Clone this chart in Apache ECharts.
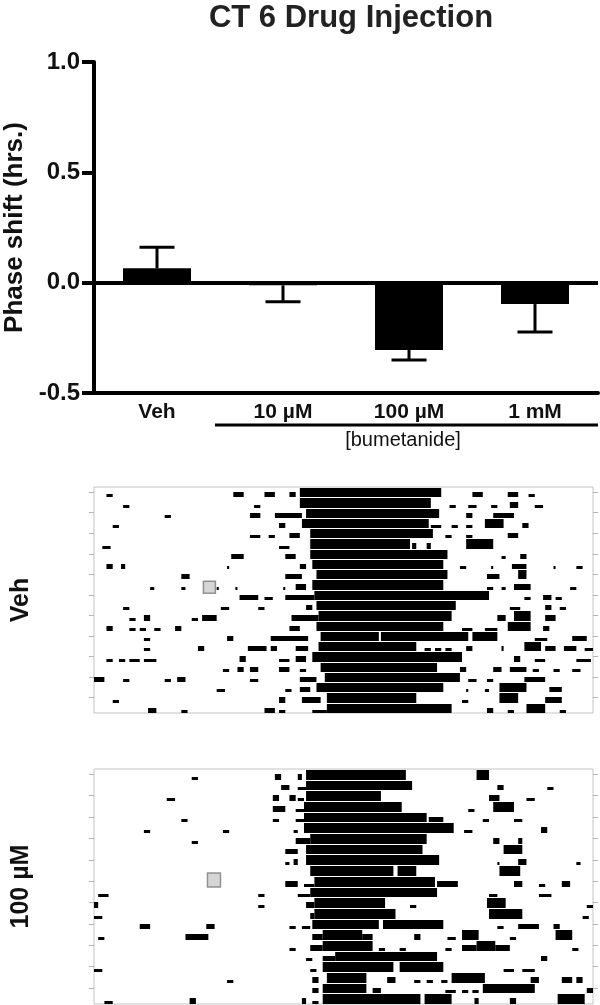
<!DOCTYPE html>
<html>
<head>
<meta charset="utf-8">
<script src="https://cdn.jsdelivr.net/npm/echarts@6/dist/echarts.min.js"></script>
<style>
html,body{margin:0;padding:0;background:#fff;}
#main{width:600px;height:1005px;}
</style>
</head>
<body>
<div id="main"></div>
<script>
// phase shift bar chart
var categories = ['Veh', '10 µM', '100 µM', '1 mM'];
var meanShift = [0.065, -0.012, -0.305, -0.097];
var semShift = [0.095, 0.074, 0.045, 0.126];

// actograms: one list per day row, each segment [startHour, endHour, level 1..3]
var vehActogram = [
  [[0.6,0.9,1],[6.7,7.2,2],[8.2,8.7,2],[9.4,9.7,2],[9.9,16.7,3],[18.2,18.7,2],[19.9,20.4,2],[20.9,21.2,1]],
  [[1.4,1.7,1],[7.7,8.0,1],[9.9,16.2,3],[17.1,17.4,1],[18.0,18.4,1],[19.1,19.4,1],[20.0,20.4,2],[21.2,21.6,1]],
  [[3.4,3.7,1],[7.5,8.0,2],[8.7,10.0,2],[10.2,16.6,3],[17.9,18.2,2],[19.2,20.2,2]],
  [[0.9,1.2,1],[8.9,9.2,2],[10.0,16.1,3],[16.2,16.7,1],[17.2,17.5,1],[17.9,18.2,1],[18.8,19.7,3],[20.6,20.9,2]],
  [[7.5,8.0,1],[8.4,8.7,1],[9.4,9.9,2],[10.4,16.3,3],[16.9,17.2,1],[17.9,18.2,1],[19.9,20.4,2]],
  [[0.4,0.8,1],[8.9,9.4,1],[10.4,15.2,3],[15.3,15.5,2],[16.0,16.2,2],[17.9,19.2,3]],
  [[6.6,7.2,2],[9.2,9.7,2],[10.4,17.0,3],[19.6,19.8,1],[20.5,20.8,2]],
  [[0.6,0.9,2],[1.3,1.5,2],[6.4,6.5,1],[9.9,10.2,2],[10.5,16.8,3],[17.6,17.9,1],[19.1,19.2,1],[20.1,20.8,2],[22.1,22.2,1],[23.2,23.5,1]],
  [[4.2,4.6,2],[9.2,10.0,2],[10.7,17.0,3],[18.9,19.5,2],[20.4,20.8,3]],
  [[2.7,2.9,1],[4.2,4.4,1],[5.9,6.0,1],[6.8,6.9,1],[9.1,9.2,1],[9.7,10.2,2],[10.5,16.8,3],[18.9,19.2,1],[19.6,19.8,1],[20.2,21.0,2],[22.9,23.2,1]],
  [[7.0,7.9,2],[8.2,8.6,1],[9.2,10.6,2],[10.6,19.0,3],[20.7,21.0,1],[21.6,22.0,2],[22.2,22.5,1]],
  [[1.4,1.7,1],[6.1,6.5,1],[7.9,8.2,1],[10.2,10.5,2],[10.7,17.4,3],[20.0,20.5,1],[21.7,22.0,2],[22.4,22.7,1]],
  [[1.7,2.0,1],[2.4,2.7,2],[4.7,5.0,1],[5.2,5.9,2],[9.5,10.8,2],[10.8,17.2,3],[19.4,19.8,2],[20.2,21.0,3],[21.7,22.2,2]],
  [[0.6,0.9,2],[1.7,2.0,1],[2.2,2.5,1],[2.9,3.2,1],[3.9,4.2,2],[9.4,9.9,2],[10.7,16.8,3],[17.7,18.2,1],[18.8,19.4,1],[19.9,21.0,3],[21.6,21.9,2]],
  [[2.4,2.7,1],[6.4,6.7,2],[8.5,10.3,2],[10.9,13.7,3],[13.8,18.0,3],[18.2,19.4,3],[21.2,21.8,1],[23.0,23.7,2]],
  [[2.4,2.7,1],[5.0,5.3,2],[7.4,8.3,2],[8.5,8.8,2],[9.7,10.3,2],[10.8,15.5,3],[15.9,16.2,1],[16.4,16.7,1],[16.9,17.2,1],[17.9,18.2,2],[19.6,19.7,2],[20.7,21.5,3],[21.7,22.2,2],[22.6,23.2,2],[23.6,24.0,1]],
  [[0.6,0.9,1],[1.2,1.5,1],[1.7,2.2,1],[2.4,3.0,1],[7.0,7.3,2],[8.9,9.4,1],[9.7,10.2,2],[10.5,17.7,3],[20.2,20.5,2],[21.2,21.7,1],[23.2,23.9,1]],
  [[6.2,6.5,1],[6.9,7.2,2],[7.5,7.9,2],[8.9,9.4,2],[9.9,10.2,1],[10.9,16.5,3],[17.6,17.9,2],[19.2,19.6,2],[20.0,20.8,2],[21.1,21.4,1],[22.1,22.4,1],[23.0,23.4,1]],
  [[0.0,0.5,2],[1.4,1.7,1],[3.4,3.7,1],[4.0,4.4,2],[7.5,7.9,1],[9.9,10.7,2],[11.1,17.6,3],[18.0,18.4,1],[18.9,19.2,1],[20.7,21.7,2]],
  [[5.9,6.3,1],[9.2,9.5,1],[9.9,10.4,2],[10.7,16.8,3],[17.9,18.0,1],[18.8,19.0,1],[19.5,20.8,3],[21.9,22.5,2]],
  [[0.9,1.2,1],[8.9,9.2,2],[10.0,10.9,2],[11.2,15.5,3],[17.7,18.0,1],[19.5,20.4,3],[21.7,22.5,2]],
  [[2.6,3.0,2],[4.2,4.5,1],[8.2,8.7,2],[8.9,9.2,1],[10.5,11.2,1],[11.2,17.2,3],[18.9,19.2,2],[19.9,20.2,1],[20.8,21.7,3],[22.4,22.7,1]]
];
var drugActogram = [
  [[4.7,5.0,1],[8.7,9.0,2],[9.8,10.0,2],[10.2,15.0,3],[18.4,19.0,3]],
  [[9.0,9.4,2],[9.8,10.2,1],[10.2,15.3,3],[19.4,19.7,2],[21.8,22.1,1]],
  [[3.5,3.9,1],[8.6,8.9,2],[9.4,9.7,2],[9.8,10.1,1],[10.2,13.8,3],[19.0,19.5,2],[20.8,21.2,1]],
  [[8.6,9.2,2],[9.7,10.1,1],[10.1,14.8,3],[18.0,18.3,1],[19.2,20.2,3]],
  [[4.2,4.5,1],[8.6,8.9,1],[9.7,10.1,1],[10.1,16.0,3],[16.1,16.8,2],[18.7,19.0,1],[20.2,20.6,1]],
  [[2.4,2.7,1],[6.2,6.5,1],[9.6,9.8,1],[10.1,17.3,3],[17.8,18.2,1],[21.5,21.8,2]],
  [[4.7,5.0,1],[9.7,10.4,2],[10.4,16.0,3],[19.2,19.5,2],[20.4,20.6,2]],
  [[9.2,9.8,2],[10.2,15.8,3],[19.7,20.6,3]],
  [[9.2,9.4,1],[9.6,9.8,2],[10.2,16.6,3],[19.4,19.5,1],[20.4,20.8,2],[23.2,23.4,1]],
  [[10.4,14.4,3],[14.6,15.5,3],[19.5,20.5,3]],
  [[9.2,9.8,2],[10.1,10.6,1],[10.6,16.4,3],[16.5,17.5,2],[20.2,20.6,2],[21.4,21.7,1],[22.5,22.9,2]],
  [[0.2,0.7,1],[7.9,8.2,1],[9.8,10.4,1],[10.4,16.5,3],[19.0,19.4,1],[21.4,22.0,1]],
  [[0.0,0.2,2],[7.9,8.2,1],[10.2,10.6,2],[10.6,14.0,3],[15.2,15.5,1],[18.9,19.8,3],[23.7,24.0,1]],
  [[0.0,0.4,1],[10.4,10.6,2],[10.6,14.5,3],[19.0,20.6,3],[23.5,23.8,1]],
  [[2.2,2.7,2],[5.4,5.8,2],[9.4,9.7,1],[10.0,10.4,1],[10.5,13.7,3],[13.9,16.8,3],[19.4,19.7,1],[20.4,21.4,2],[22.1,22.4,2]],
  [[0.2,0.5,1],[4.4,5.5,2],[10.5,11.0,2],[11.0,12.9,3],[12.9,13.4,2],[15.4,15.7,2],[17.0,17.4,1],[17.7,18.5,3],[20.0,20.3,1],[22.2,23.0,3]],
  [[9.4,9.7,1],[10.4,11.0,2],[11.0,13.4,3],[13.7,14.0,1],[14.7,15.0,1],[16.9,17.2,1],[17.7,18.4,2],[18.4,19.3,3],[19.3,20.0,2],[23.0,23.3,1]],
  [[10.2,10.5,1],[11.0,11.6,2],[11.6,16.5,3],[21.5,21.8,2]],
  [[0.0,0.4,1],[10.4,10.7,1],[11.0,14.4,3],[14.7,16.8,3],[19.7,20.2,1],[20.6,21.2,1]],
  [[6.4,6.7,1],[10.5,10.8,2],[11.2,13.1,3],[14.1,14.5,2],[15.4,15.7,1],[16.0,16.3,1],[16.7,17.0,1],[17.2,18.8,3],[21.0,21.4,2],[22.5,23.0,2],[23.2,23.5,2]],
  [[10.5,10.8,2],[11.0,13.1,3],[13.4,13.8,2],[16.9,17.4,1],[17.7,18.0,1],[18.2,18.5,1],[18.7,21.2,3],[23.7,24.0,2]],
  [[0.5,0.9,1],[4.6,4.9,2],[10.0,10.2,2],[10.5,10.8,1],[11.0,15.7,3],[15.9,17.2,3],[18.3,18.5,2],[20.0,20.3,2],[22.3,23.6,3]]
];
// injection markers [hour, row]
var vehInjection = [[5.55, 9.75]];
var drugInjection = [[5.77, 10.4]];

var FONT = 'Liberation Sans, Arial, Helvetica, sans-serif';
var levelFrac = {1: 0.3, 2: 0.55, 3: 1};
var rowTicks = [0.5, 2.5, 4.5, 6.5, 8.5, 10.5, 12.5, 14.5, 16.5, 18.5, 20.5];

function toSegments(rows){
    var out = [];
    rows.forEach(function(segs, r){
        segs.forEach(function(s){ out.push([r, s[0], s[1], s[2]]); });
    });
    return out;
}

function renderActivity(params, api){
    var r = api.value(0);
    var p0 = api.coord([api.value(1), r + 1]);
    var p1 = api.coord([api.value(2), r]);
    var base = Math.round(p0[1]);
    var top = Math.round(p1[1]) + 1;
    var h = Math.max(2, Math.round((base - top) * levelFrac[api.value(3)]));
    return {
        type: 'rect',
        shape: {x: p0[0], y: base - h, width: p1[0] - p0[0], height: h},
        style: {fill: '#000'}
    };
}

function renderError(params, api){
    var a = api.coord([api.value(0), api.value(1)]);
    var b = api.coord([api.value(0), api.value(2)]);
    var st = {stroke: '#000', lineWidth: 3};
    return {
        type: 'group',
        children: [
            {type: 'line', shape: {x1: a[0], y1: a[1], x2: b[0], y2: b[1]}, style: st},
            {type: 'line', shape: {x1: b[0] - 17.5, y1: b[1], x2: b[0] + 17.5, y2: b[1]}, style: st}
        ]
    };
}

var errData = meanShift.map(function(m, i){
    return [i, m, m >= 0 ? m + semShift[i] : m - semShift[i]];
});

function actoX(gi){
    return {type: 'value', gridIndex: gi, min: 0, max: 24,
        axisLine: {show: false}, axisTick: {show: false}, axisLabel: {show: false}, splitLine: {show: false}};
}
function actoY(gi, pos, name){
    return {type: 'value', gridIndex: gi, min: 0, max: 22, inverse: true, position: pos,
        axisLine: {show: false},
        axisTick: {show: true, customValues: rowTicks, length: 5, lineStyle: {color: '#b4b4b4', width: 1}},
        axisLabel: {show: false}, splitLine: {show: false},
        name: name || '', nameLocation: 'middle', nameGap: 60, nameRotate: 90,
        nameTextStyle: {fontFamily: FONT, fontWeight: 'bold', fontSize: 25, color: '#111'}};
}

var chart = echarts.init(document.getElementById('main'));
chart.setOption({
    animation: false,
    title: {
        text: 'CT 6 Drug Injection', left: 346, top: -2, textAlign: 'center',
        textStyle: {fontFamily: FONT, fontWeight: 'bold', fontSize: 31, color: '#222'}
    },
    grid: [
        {left: 94, right: 2, top: 62, height: 331, outerBoundsMode: 'none'},
        {left: 94, width: 499, top: 487, height: 226, show: true, borderColor: '#c4c4c4', borderWidth: 1, outerBoundsMode: 'none'},
        {left: 94, width: 499, top: 769, height: 235, show: true, borderColor: '#c4c4c4', borderWidth: 1, outerBoundsMode: 'none'}
    ],
    xAxis: [
        {type: 'category', gridIndex: 0, data: categories,
            axisLine: {onZero: false, lineStyle: {color: '#000', width: 4}},
            axisTick: {show: false},
            axisLabel: {fontFamily: FONT, fontWeight: 'bold', fontSize: 21, color: '#111', margin: 9}},
        actoX(1), actoX(2)
    ],
    yAxis: [
        {type: 'value', gridIndex: 0, min: -0.5, max: 1.0, interval: 0.5,
            axisLine: {show: true, lineStyle: {color: '#000', width: 4}},
            axisTick: {show: true, length: 12, lineStyle: {color: '#000', width: 4}},
            axisLabel: {fontFamily: FONT, fontWeight: 'bold', fontSize: 24, color: '#111', margin: 14,
                formatter: function(v){ return v.toFixed(1); }},
            splitLine: {show: false},
            name: 'Phase shift (hrs.)', nameLocation: 'middle', nameGap: 65, nameRotate: 90,
            nameTextStyle: {fontFamily: FONT, fontWeight: 'bold', fontSize: 26, color: '#111'}},
        actoY(1, 'left', 'Veh'), actoY(1, 'right'),
        actoY(2, 'left', '100 µM'), actoY(2, 'right')
    ],
    graphic: [
        {type: 'line', shape: {x1: 215, y1: 425, x2: 598, y2: 425}, style: {stroke: '#000', lineWidth: 3}},
        {type: 'text', x: 403, y: 440, style: {text: '[bumetanide]', fontFamily: FONT, fontSize: 20,
            fill: '#111', align: 'center', verticalAlign: 'middle'}}
    ],
    series: [
        {type: 'bar', xAxisIndex: 0, yAxisIndex: 0, data: meanShift, barWidth: 68,
            itemStyle: {color: '#000'},
            markLine: {silent: true, symbol: 'none', label: {show: false},
                lineStyle: {color: '#000', width: 4, type: 'solid'}, data: [{yAxis: 0}]}},
        {type: 'custom', xAxisIndex: 0, yAxisIndex: 0, data: errData, renderItem: renderError, z: 3},
        {type: 'custom', xAxisIndex: 1, yAxisIndex: 1, data: toSegments(vehActogram), renderItem: renderActivity},
        {type: 'custom', xAxisIndex: 2, yAxisIndex: 3, data: toSegments(drugActogram), renderItem: renderActivity},
        {type: 'scatter', xAxisIndex: 1, yAxisIndex: 1, data: vehInjection, symbol: 'rect', symbolSize: [12, 12],
            itemStyle: {color: '#cacaca', borderColor: '#7a7a7a', borderWidth: 1.5}, z: 5},
        {type: 'scatter', xAxisIndex: 2, yAxisIndex: 3, data: drugInjection, symbol: 'rect', symbolSize: [13, 14],
            itemStyle: {color: '#cacaca', borderColor: '#7a7a7a', borderWidth: 1.5}, z: 5}
    ]
});
</script>
</body>
</html>
